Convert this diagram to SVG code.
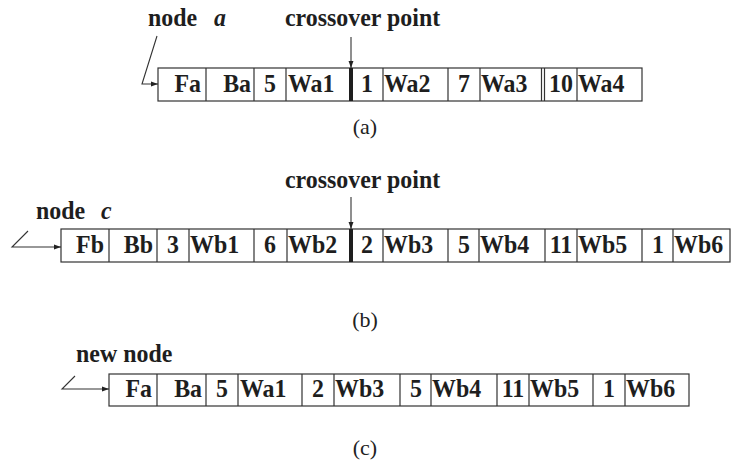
<svg xmlns="http://www.w3.org/2000/svg" width="731" height="468" viewBox="0 0 731 468">
<defs>
<marker id="ah" viewBox="0 0 10 10" refX="10" refY="5" markerWidth="7" markerHeight="7" markerUnits="userSpaceOnUse" orient="auto">
<path d="M0,1.5 L10,5 L0,8.5 z" fill="#222"/>
</marker>
<style>
.t{font-family:"Liberation Serif","Times New Roman",serif;font-weight:bold;font-size:26px;fill:#1e1e1e;transform-box:fill-box;transform-origin:left center;transform:scaleX(0.92)}
.i{font-style:italic}
.cap{font-family:"Liberation Serif","Times New Roman",serif;font-size:22px;fill:#222}
.box{fill:#fff;stroke:#333;stroke-width:1.2}
.dv{stroke:#333;stroke-width:1.2}
.thick{stroke:#1e1e1e;stroke-width:4}
.con{fill:none;stroke:#333;stroke-width:1.1}
.m{text-anchor:middle;transform-origin:center}
.e{text-anchor:end;transform-origin:right center}
.cap.m{transform:none}
</style>
</defs>

<!-- Row (a) -->
<g id="node-a">
<rect class="box" x="158" y="68" width="484" height="33"/>
<path class="dv" d="M206,68V101M254,68V101M286,68V101M383,68V101M448,68V101M480,68V101M541.5,68V101M544.5,68V101M577,68V101"/>
<line class="thick" x1="351" y1="68" x2="351" y2="101"/>
<text class="t e" x="201" y="92">Fa</text>
<text class="t e" x="251" y="92">Ba</text>
<text class="t m" x="270" y="92">5</text>
<text class="t" x="288" y="92">Wa1</text>
<text class="t m" x="367" y="92">1</text>
<text class="t" x="384" y="92">Wa2</text>
<text class="t m" x="464" y="92">7</text>
<text class="t" x="481" y="92">Wa3</text>
<text class="t m" x="561" y="92">10</text>
<text class="t" x="578" y="92">Wa4</text>
</g>
<g id="label-a">
<text class="t" x="148" y="26">node</text>
<text class="t i" x="214" y="26">a</text>
<text class="t" x="285" y="26">crossover point</text>
<text class="cap m" x="365" y="134">(a)</text>
</g>

<!-- Row (b) -->
<g id="node-c">
<rect class="box" x="61" y="229" width="669" height="33"/>
<path class="dv" d="M109,229V262M157,229V262M189,229V262M254,229V262M287,229V262M383,229V262M448,229V262M479,229V262M545,229V262M577,229V262M642,229V262M673,229V262"/>
<line class="thick" x1="351" y1="229" x2="351" y2="262"/>
<text class="t e" x="104" y="253">Fb</text>
<text class="t e" x="153" y="253">Bb</text>
<text class="t m" x="173" y="253">3</text>
<text class="t" x="190" y="253">Wb1</text>
<text class="t m" x="270" y="253">6</text>
<text class="t" x="288" y="253">Wb2</text>
<text class="t m" x="367" y="253">2</text>
<text class="t" x="384" y="253">Wb3</text>
<text class="t m" x="464" y="253">5</text>
<text class="t" x="480" y="253">Wb4</text>
<text class="t m" x="561" y="253">11</text>
<text class="t" x="578" y="253">Wb5</text>
<text class="t m" x="658" y="253">1</text>
<text class="t" x="674" y="253">Wb6</text>
</g>
<g id="label-c">
<text class="t" x="36" y="219">node</text>
<text class="t i" x="101" y="219">c</text>
<text class="t" x="285" y="188">crossover point</text>
<text class="cap m" x="365" y="327">(b)</text>
</g>

<!-- Row (c) -->
<g id="new-node">
<rect class="box" x="109" y="374" width="580" height="32"/>
<path class="dv" d="M157,374V406M206,374V406M238,374V406M302,374V406M334,374V406M400,374V406M431,374V406M497,374V406M529,374V406M593,374V406M625,374V406"/>
<text class="t e" x="152" y="397">Fa</text>
<text class="t e" x="202" y="397">Ba</text>
<text class="t m" x="222" y="397">5</text>
<text class="t" x="240" y="397">Wa1</text>
<text class="t m" x="318" y="397">2</text>
<text class="t" x="335" y="397">Wb3</text>
<text class="t m" x="416" y="397">5</text>
<text class="t" x="432" y="397">Wb4</text>
<text class="t m" x="513" y="397">11</text>
<text class="t" x="530" y="397">Wb5</text>
<text class="t m" x="609" y="397">1</text>
<text class="t" x="626" y="397">Wb6</text>
</g>
<g id="label-new">
<text class="t" x="76" y="362">new node</text>
<text class="cap m" x="365" y="455">(c)</text>
</g>

<!-- Connectors -->
<g id="connectors">
<path class="con" d="M157,36 L142,84 L158,84" marker-end="url(#ah)"/>
<line class="con" x1="351" y1="37" x2="351" y2="68" marker-end="url(#ah)"/>
<path class="con" d="M28,231 L12,247 L61,247" marker-end="url(#ah)"/>
<line class="con" x1="351" y1="197" x2="351" y2="229" marker-end="url(#ah)"/>
<path class="con" d="M75,376 L62,389 L109,389" marker-end="url(#ah)"/>
</g>
</svg>
